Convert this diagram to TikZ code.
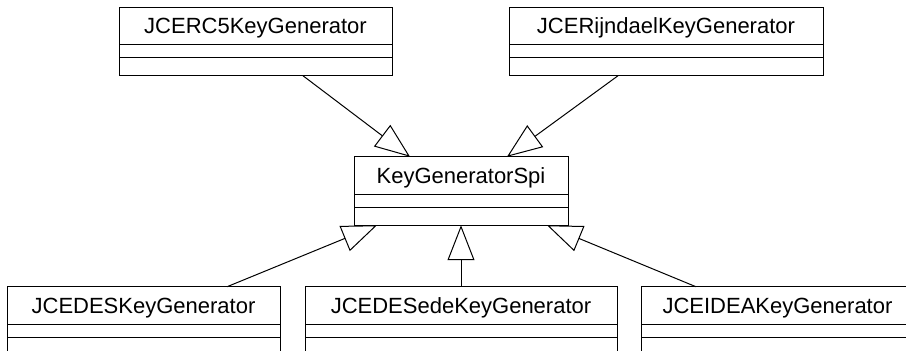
\documentclass[tikz,border=0pt]{standalone}
\usepackage{fontspec}
\setmainfont{Liberation Sans}
\usetikzlibrary{arrows.meta, positioning}

\begin{document}
\begin{tikzpicture}[x=1pt, y=1pt, line width=1pt,
  classname/.style={draw, minimum width=#1, minimum height=37.5pt, inner sep=0pt, outer sep=0pt,
    text depth=0pt, font=\fontsize{22}{26}\selectfont},
  attrpart/.style={draw, minimum width=#1, minimum height=13pt, inner sep=0pt, outer sep=0pt},
  oppart/.style={draw, minimum width=#1, minimum height=18pt, inner sep=0pt, outer sep=0pt},
  inherit/.style={-{Triangle[open, length=35pt, width=27pt]}}]
  \useasboundingbox (0,0) rectangle (906,351);
  \clip (0,0) rectangle (906,351);

  % Base class
  \node[classname=214pt] (spi) at (461,175.5) {KeyGeneratorSpi};
  \node[attrpart=214pt, below=0pt of spi] (spiattr) {};
  \node[oppart=214pt, below=0pt of spiattr] (spiops) {};

  % Top row
  \node[classname=273pt] (rcfive) at (255.5,325) {JCERC5KeyGenerator};
  \node[attrpart=273pt, below=0pt of rcfive] (rcfiveattr) {};
  \node[oppart=273pt, below=0pt of rcfiveattr] (rcfiveops) {};

  \node[classname=314pt] (rijndael) at (666,325) {JCERijndaelKeyGenerator};
  \node[attrpart=314pt, below=0pt of rijndael] (rijndaelattr) {};
  \node[oppart=314pt, below=0pt of rijndaelattr] (rijndaelops) {};

  % Bottom row
  \node[classname=273pt] (des) at (143.5,45.5) {JCEDESKeyGenerator};
  \node[attrpart=273pt, below=0pt of des] (desattr) {};
  \node[oppart=273pt, below=0pt of desattr] (desops) {};

  \node[classname=312pt] (desede) at (461,45.5) {JCEDESedeKeyGenerator};
  \node[attrpart=312pt, below=0pt of desede] (desedeattr) {};
  \node[oppart=312pt, below=0pt of desedeattr] (desedeops) {};

  \node[classname=273pt] (idea) at (777.5,45.5) {JCEIDEAKeyGenerator};
  \node[attrpart=273pt, below=0pt of idea] (ideaattr) {};
  \node[oppart=273pt, below=0pt of ideaattr] (ideaops) {};

  % Generalisations
  \draw[inherit] ([xshift=47.5pt]rcfiveops.south) -- ([xshift=-51pt]spi.north);
  \draw[inherit] ([xshift=-48pt]rijndaelops.south) -- ([xshift=46pt]spi.north);
  \draw[inherit] ([xshift=83.5pt]des.north) -- ([xshift=-84pt]spiops.south);
  \draw[inherit] (desede.north) -- (spiops.south);
  \draw[inherit] ([xshift=-81.5pt]idea.north) -- ([xshift=86pt]spiops.south);
\end{tikzpicture}
\end{document}
